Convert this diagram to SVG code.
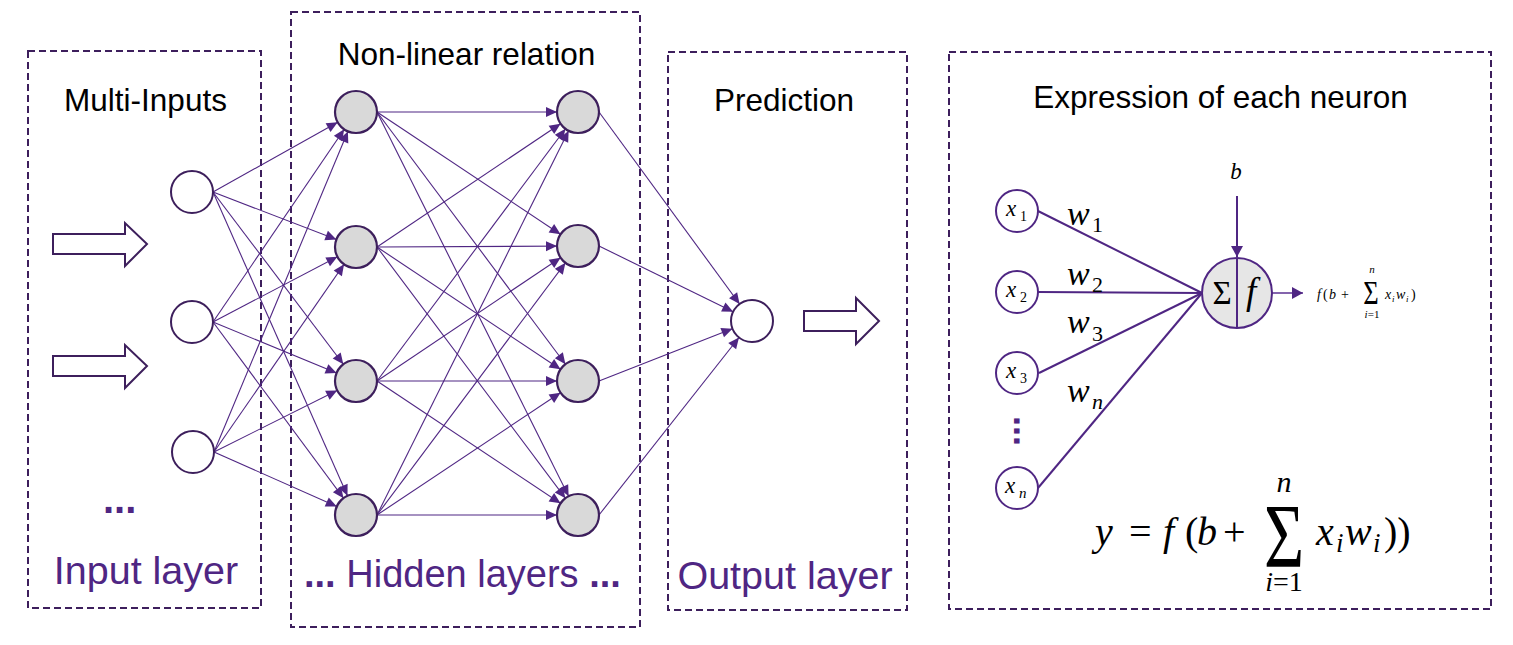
<svg xmlns="http://www.w3.org/2000/svg" width="1513" height="645" viewBox="0 0 1513 645">
<defs>
<style>
.box{fill:none;stroke:#3d1f5c;stroke-width:2;stroke-dasharray:7,4}
.inode{fill:#fff;stroke:#3d1f5c;stroke-width:2}
.hnode{fill:#d9d9d9;stroke:#3d1f5c;stroke-width:2.2}
.c{stroke:#4f2683;stroke-width:1.1;fill:none;marker-end:url(#ah)}
.w{stroke:#4f2683;stroke-width:2;fill:none}
.barrow{fill:#fff;stroke:#3d1f5c;stroke-width:2}
.t{font-family:"Liberation Sans",Arial,sans-serif;fill:#000}
.p{font-family:"Liberation Sans",Arial,sans-serif;fill:#4f2683}
.m{font-family:"Liberation Serif","DejaVu Serif",serif;fill:#000}
.i{font-style:italic}
.xnode{fill:#fff;stroke:#4f2683;stroke-width:2}
</style>
<marker id="ah" markerUnits="userSpaceOnUse" markerWidth="12" markerHeight="10" refX="32" refY="5" orient="auto" overflow="visible"><path d="M0,0 L11,5 L0,10 z" fill="#4f2683"/></marker>
<marker id="ah2" markerUnits="userSpaceOnUse" markerWidth="12" markerHeight="12" refX="11" refY="6" orient="auto" overflow="visible"><path d="M0,0 L11,6 L0,12 z" fill="#4f2683"/></marker>
</defs>

<g id="frames">
<rect class="box" x="28" y="51" width="233" height="557"/>
<rect class="box" x="291" y="12" width="349" height="615"/>
<rect class="box" x="668" y="52" width="239" height="558"/>
<rect class="box" x="949" y="52" width="542" height="557"/>
</g>

<g id="connectors">
<line class="c" x1="213" y1="192" x2="356" y2="112"/>
<line class="c" x1="213" y1="192" x2="356" y2="247"/>
<line class="c" x1="213" y1="192" x2="356" y2="381"/>
<line class="c" x1="213" y1="192" x2="356" y2="515"/>
<line class="c" x1="213" y1="322" x2="356" y2="112"/>
<line class="c" x1="213" y1="322" x2="356" y2="247"/>
<line class="c" x1="213" y1="322" x2="356" y2="381"/>
<line class="c" x1="213" y1="322" x2="356" y2="515"/>
<line class="c" x1="214" y1="452" x2="356" y2="112"/>
<line class="c" x1="214" y1="452" x2="356" y2="247"/>
<line class="c" x1="214" y1="452" x2="356" y2="381"/>
<line class="c" x1="214" y1="452" x2="356" y2="515"/>

<line class="c" x1="377" y1="112" x2="578" y2="112"/>
<line class="c" x1="377" y1="112" x2="578" y2="246"/>
<line class="c" x1="377" y1="112" x2="578" y2="381"/>
<line class="c" x1="377" y1="112" x2="578" y2="515"/>
<line class="c" x1="377" y1="247" x2="578" y2="112"/>
<line class="c" x1="377" y1="247" x2="578" y2="246"/>
<line class="c" x1="377" y1="247" x2="578" y2="381"/>
<line class="c" x1="377" y1="247" x2="578" y2="515"/>
<line class="c" x1="377" y1="381" x2="578" y2="112"/>
<line class="c" x1="377" y1="381" x2="578" y2="246"/>
<line class="c" x1="377" y1="381" x2="578" y2="381"/>
<line class="c" x1="377" y1="381" x2="578" y2="515"/>
<line class="c" x1="377" y1="515" x2="578" y2="112"/>
<line class="c" x1="377" y1="515" x2="578" y2="246"/>
<line class="c" x1="377" y1="515" x2="578" y2="381"/>
<line class="c" x1="377" y1="515" x2="578" y2="515"/>

<line class="c" x1="599" y1="112" x2="752" y2="321"/>
<line class="c" x1="599" y1="246" x2="752" y2="321"/>
<line class="c" x1="599" y1="381" x2="752" y2="321"/>
<line class="c" x1="599" y1="515" x2="752" y2="321"/>

<line class="w" x1="1038" y1="211" x2="1202" y2="293"/>
<line class="w" x1="1038" y1="292" x2="1202" y2="293"/>
<line class="w" x1="1039" y1="373" x2="1202" y2="293"/>
<line class="w" x1="1038" y1="488" x2="1202" y2="293"/>
<line x1="1237" y1="196" x2="1237" y2="257" stroke="#4f2683" stroke-width="2" marker-end="url(#ah2)"/>
<line x1="1272" y1="293" x2="1303" y2="293" stroke="#5b3192" stroke-width="1.5" marker-end="url(#ah2)"/>
</g>

<g id="input-arrows">
<path class="barrow" d="M53,234 L125,234 L125,223 L147,244 L125,266 L125,254 L53,254 Z"/>
<path class="barrow" d="M53,356 L125,356 L125,345 L147,366 L125,388 L125,376 L53,376 Z"/>
</g>
<g id="output-arrow">
<path class="barrow" d="M804,311 L856,311 L856,298 L879,321 L856,344 L856,331 L804,331 Z"/>
</g>

<g id="input-layer">
<circle class="inode" cx="192" cy="192" r="21"/>
<circle class="inode" cx="192" cy="322" r="21"/>
<circle class="inode" cx="193" cy="452" r="21"/>
<text class="p" x="103" y="513" font-size="40" font-weight="bold">...</text>
<text class="t" x="145.5" y="111" font-size="31.5" text-anchor="middle">Multi-Inputs</text>
<text class="p" x="146" y="584" font-size="39.5" text-anchor="middle">Input layer</text>
</g>

<g id="hidden-layers">
<circle class="hnode" cx="356" cy="112" r="21"/>
<circle class="hnode" cx="356" cy="247" r="21"/>
<circle class="hnode" cx="356" cy="381" r="21"/>
<circle class="hnode" cx="356" cy="515" r="21"/>
<circle class="hnode" cx="578" cy="112" r="21"/>
<circle class="hnode" cx="578" cy="246" r="21"/>
<circle class="hnode" cx="578" cy="381" r="21"/>
<circle class="hnode" cx="578" cy="515" r="21"/>
<text class="t" x="466.5" y="65" font-size="31.5" text-anchor="middle">Non-linear relation</text>
<text class="p" x="304" y="587" font-size="38"><tspan font-weight="bold">...</tspan> Hidden layers <tspan font-weight="bold">...</tspan></text>
</g>

<g id="output-layer">
<circle class="inode" cx="752" cy="321" r="21"/>
<text class="t" x="784" y="111" font-size="31.5" text-anchor="middle">Prediction</text>
<text class="p" x="785" y="589" font-size="39.5" text-anchor="middle">Output layer</text>
</g>

<g id="neuron-expression">
<text class="t" x="1220.5" y="108" font-size="31.5" text-anchor="middle">Expression of each neuron</text>
<circle class="xnode" cx="1017" cy="211" r="21"/>
<circle class="xnode" cx="1017" cy="292" r="21"/>
<circle class="xnode" cx="1017" cy="373" r="21"/>
<circle class="xnode" cx="1017" cy="488" r="21"/>
<text class="m i" x="1006" y="216" font-size="23">x</text><text class="m" x="1020" y="221" font-size="14">1</text>
<text class="m i" x="1006" y="297" font-size="23">x</text><text class="m" x="1020" y="302" font-size="14">2</text>
<text class="m i" x="1006" y="378" font-size="23">x</text><text class="m" x="1020" y="383" font-size="14">3</text>
<text class="m i" x="1005" y="493" font-size="23">x</text><text class="m i" x="1019" y="498" font-size="15">n</text>
<text class="p" x="1014" y="416" font-size="36" font-weight="bold" transform="rotate(90 1014 416)">...</text>

<text class="m i" x="1067" y="225" font-size="34">w</text><text class="m" x="1092" y="232" font-size="22">1</text>
<text class="m i" x="1067" y="285" font-size="34">w</text><text class="m" x="1092" y="292" font-size="22">2</text>
<text class="m i" x="1067" y="333" font-size="34">w</text><text class="m" x="1092" y="341" font-size="22">3</text>
<text class="m i" x="1067" y="402" font-size="34">w</text><text class="m i" x="1092" y="409" font-size="22">n</text>

<text class="m i" x="1236" y="179" font-size="23" text-anchor="middle">b</text>
<circle cx="1237" cy="293" r="35" fill="#e6e6e6" stroke="#4f2683" stroke-width="2"/>
<line x1="1237" y1="258" x2="1237" y2="328" stroke="#4f2683" stroke-width="2"/>
<text class="m" x="1222" y="304" font-size="33" text-anchor="middle">Σ</text>
<text class="m i" x="1246" y="304" font-size="37">f</text>

<g id="small-formula">
<text class="m i" x="1317" y="299" font-size="14">f</text>
<text class="m" x="1323" y="299" font-size="14">(</text>
<text class="m i" x="1329" y="299" font-size="14">b</text>
<text class="m" x="1341" y="299" font-size="14">+</text>
<text class="m" x="1371" y="304" font-size="34" text-anchor="middle" transform="translate(1371 0) scale(0.78 1) translate(-1371 0)">Σ</text>
<text class="m i" x="1372" y="273" font-size="11" text-anchor="middle">n</text>
<text class="m" x="1372" y="318" font-size="11" text-anchor="middle"><tspan font-style="italic">i</tspan>=1</text>
<text class="m i" x="1385" y="299" font-size="14">x</text>
<text class="m i" x="1392" y="302" font-size="9">i</text>
<text class="m i" x="1396" y="299" font-size="14">w</text>
<text class="m i" x="1406" y="302" font-size="9">i</text>
<text class="m" x="1411" y="299" font-size="14">)</text>
</g>

<g id="big-formula">
<text class="m i" x="1095" y="545" font-size="40">y</text>
<text class="m" x="1129" y="545" font-size="40">=</text>
<text class="m i" x="1163" y="545" font-size="40">f</text>
<text class="m" x="1185" y="545" font-size="40">(</text>
<text class="m i" x="1197" y="545" font-size="40">b</text>
<text class="m" x="1223" y="545" font-size="40">+</text>
<text class="m" x="1284" y="567" font-size="92" text-anchor="middle" transform="translate(1284 0) scale(0.75 1) translate(-1284 0)">Σ</text>
<text class="m i" x="1284" y="492" font-size="30" text-anchor="middle">n</text>
<text class="m" x="1284" y="591" font-size="28" text-anchor="middle"><tspan font-style="italic">i</tspan>=1</text>
<text class="m i" x="1316" y="545" font-size="40">x</text>
<text class="m i" x="1336" y="552" font-size="27">i</text>
<text class="m i" x="1345" y="545" font-size="40">w</text>
<text class="m i" x="1373" y="552" font-size="27">i</text>
<text class="m" x="1384" y="545" font-size="40">))</text>
</g>
</g>
</svg>
